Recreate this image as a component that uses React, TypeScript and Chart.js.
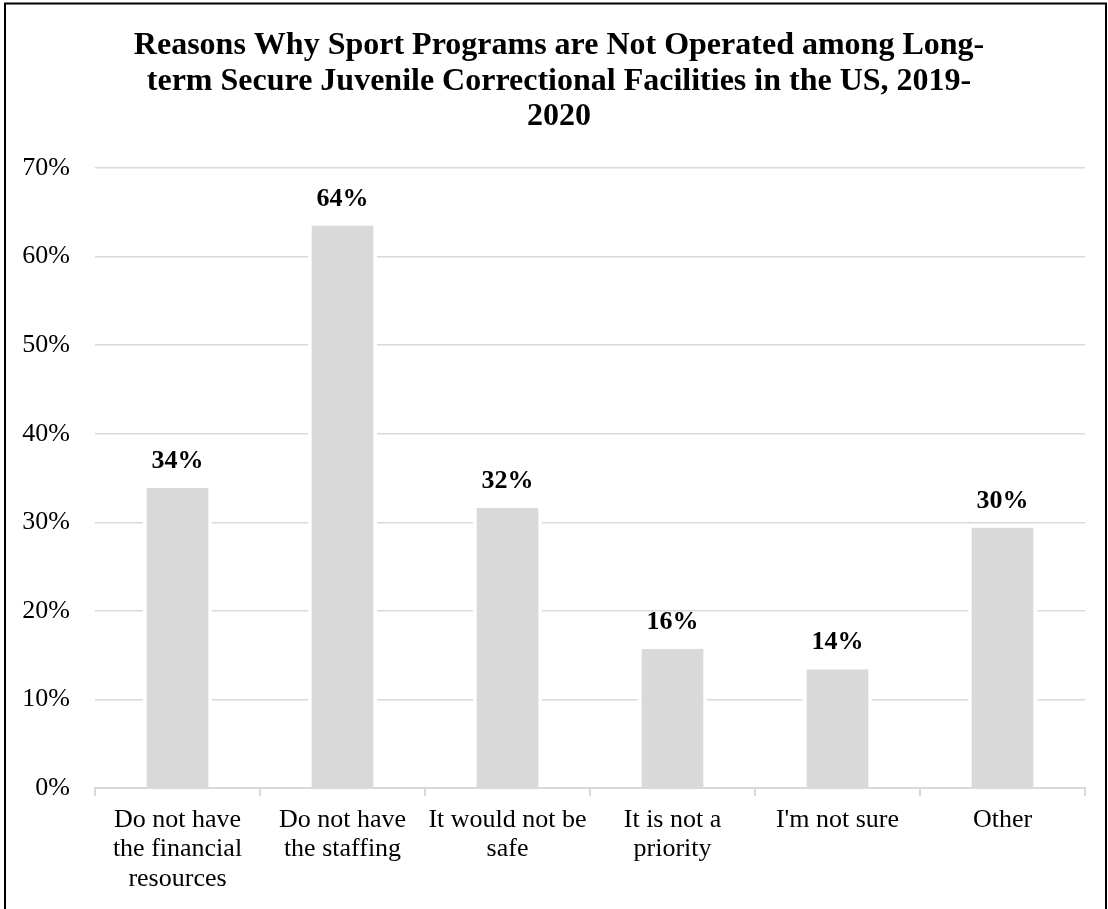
import React, { useEffect, useRef } from "react";
import { Chart, registerables } from "chart.js";

Chart.register(...registerables);

const titleLines = [
  "Reasons Why Sport Programs are Not Operated among Long-",
  "term Secure Juvenile Correctional Facilities in the US, 2019-",
  "2020",
];

const categories = [
  ["Do not have", "the financial", "resources"],
  ["Do not have", "the staffing"],
  ["It would not be", "safe"],
  ["It is not a", "priority"],
  ["I'm not sure"],
  ["Other"],
];

const values = [33.9, 63.5, 31.6, 15.7, 13.4, 29.4];
const valueLabels = ["34%", "64%", "32%", "16%", "14%", "30%"];

const yMin = 0;
const yMax = 70;
const yStep = 10;

const FONT = "'Liberation Serif', 'Times New Roman', serif";

export default function App() {
  const ref = useRef<HTMLCanvasElement | null>(null);

  useEffect(() => {
    document.body.style.margin = "0";
    const canvas = ref.current;
    if (!canvas) return;

    const borderPlugin = {
      id: "frame",
      afterDraw(chart: any) {
        const ctx = chart.ctx;
        ctx.save();
        ctx.strokeStyle = "#000";
        ctx.lineWidth = 2;
        ctx.strokeRect(5, 3.5, 1101, 1000);
        ctx.restore();
      },
    };

    const titlePlugin = {
      id: "titleLines",
      afterDraw(chart: any) {
        const ctx = chart.ctx;
        ctx.save();
        ctx.font = `bold 32px ${FONT}`;
        ctx.fillStyle = "#000";
        ctx.textAlign = "center";
        ctx.textBaseline = "alphabetic";
        const baselines = [54, 90, 125];
        titleLines.forEach((t, i) => ctx.fillText(t, 559, baselines[i]));
        ctx.restore();
      },
    };

    const labelPlugin = {
      id: "valueLabels",
      afterDatasetsDraw(chart: any) {
        const ctx = chart.ctx;
        const meta = chart.getDatasetMeta(0);
        ctx.save();
        ctx.font = `bold 26px ${FONT}`;
        ctx.fillStyle = "#000";
        ctx.textAlign = "center";
        ctx.textBaseline = "alphabetic";
        meta.data.forEach((bar: any, i: number) => {
          ctx.fillText(valueLabels[i], bar.x, bar.y - 20);
        });
        ctx.restore();
      },
    };

    const chart = new Chart(canvas, {
      type: "bar",
      data: {
        labels: categories,
        datasets: [
          {
            data: values,
            backgroundColor: "#d9d9d9",
            borderColor: "#ffffff",
            borderWidth: { left: 4, right: 4, top: 0, bottom: 0 },
            borderSkipped: false,
            barPercentage: 0.422,
            categoryPercentage: 1,
          },
        ],
      },
      options: {
        responsive: false,
        animation: false,
        devicePixelRatio: 1,
        layout: { padding: { top: 168, left: 0, right: 23, bottom: 0 } },
        plugins: {
          legend: { display: false },
          title: { display: false },
          tooltip: { enabled: false },
        },
        scales: {
          x: {
            offset: true,
            grid: {
              display: true,
              offset: true,
              drawOnChartArea: false,
              drawTicks: true,
              tickLength: 8,
              color: "#d9d9d9",
              lineWidth: 2,
            },
            border: { display: true, color: "#d9d9d9", width: 2 },
            ticks: {
              color: "#000",
              padding: 9,
              maxRotation: 0,
              autoSkip: false,
              font: { family: FONT, size: 26, lineHeight: 1.14 },
            },
            afterFit(scale: any) {
              scale.height = 121;
            },
          },
          y: {
            min: yMin,
            max: yMax,
            grid: {
              color: "#d9d9d9",
              lineWidth: 1.5,
              drawTicks: false,
            },
            border: { display: false },
            ticks: {
              stepSize: yStep,
              color: "#000",
              padding: 25,
              font: { family: FONT, size: 26 },
              callback: (v: any) => `${v}%`,
            },
            afterFit(scale: any) {
              scale.width = 95;
            },
          },
        },
      },
      plugins: [borderPlugin, titlePlugin, labelPlugin],
    });

    return () => chart.destroy();
  }, []);

  return (
    <div style={{ width: 1108, height: 909 }}>
      <canvas ref={ref} width={1108} height={909} style={{ display: "block", width: 1108, height: 909 }} />
    </div>
  );
}
